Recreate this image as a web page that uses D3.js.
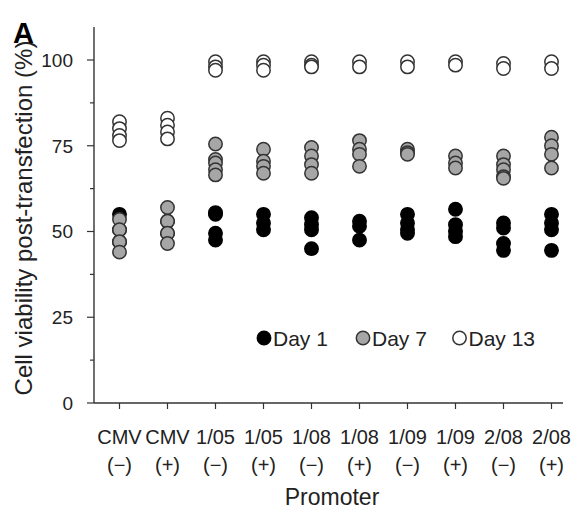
<!DOCTYPE html>
<html><head><meta charset="utf-8">
<script src="https://cdn.jsdelivr.net/npm/d3@7"></script>
<style>body{margin:0;background:#fff}svg{display:block}text{font-family:"Liberation Sans",Arial,sans-serif;fill:#222}</style>
</head><body>
<svg id="c" width="577" height="513"></svg>
<script>
const categories = ["CMV (−)","CMV (+)","1/05 (−)","1/05 (+)","1/08 (−)","1/08 (+)","1/09 (−)","1/09 (+)","2/08 (−)","2/08 (+)"];
const day1 = [[55,50.5,47],[53,49.5],[55.5,55,49.5,47.5],[55,52.5,50.5],[54,52,50.5,45],[53,51.5,47.5],[55,52.5,50.5,49.5],[56.5,52,50,48.5],[52.5,51,46.5,44.5],[55,52.5,50.5,44.5]];
const day7 = [[53.5,50.5,47,44],[57,53,49.5,46.5],[75.5,71,70,68,66.5],[74,70.5,69,67],[74.5,72,69.5,67],[76.5,74,72.5,69],[74,73,72.5],[72,70,68.5],[72,69.5,68,66,65.5],[77.5,75,72.5,68.5]];
const day13 = [[82,80,78,76.5],[83,81,79,77],[99.5,98,97],[99.5,98.5,97],[99.5,98.5,98],[99.5,98],[99.5,98],[99.5,98.5],[99,97.5],[99.5,97.5]];
const yTicks = [0,25,50,75,100];
const seriesNames = ["Day 1","Day 7","Day 13"];
const seriesFill = ["#000","#a6a6a6","#fff"];

const svg = d3.select("#c");
const y = d3.scaleLinear().domain([0,100]).range([403,60]);
const x = d3.scalePoint().domain(categories).range([119.5,551.5]);
const ax = 94, ay = 403;

// y axis
svg.append("line").attr("x1",ax).attr("x2",ax).attr("y1",27).attr("y2",ay).attr("stroke","#333").attr("stroke-width",1.4);
const minor = d3.range(12.5,100,25);
svg.selectAll(".mn").data(minor).enter().append("line").attr("x1",ax-4).attr("x2",ax).attr("y1",d=>y(d)).attr("y2",d=>y(d)).attr("stroke","#333").attr("stroke-width",1.2);
svg.selectAll(".mj").data(yTicks).enter().append("line").attr("x1",ax-7).attr("x2",ax).attr("y1",d=>y(d)).attr("y2",d=>y(d)).attr("stroke","#333").attr("stroke-width",1.2);
svg.selectAll(".yl").data(yTicks).enter().append("text").attr("x",73).attr("y",d=>y(d)).attr("dy","0.36em").attr("text-anchor","end").attr("font-size",19).text(d=>d);
svg.append("text").attr("transform","translate(32,218) rotate(-90)").attr("text-anchor","middle").attr("font-size",24).text("Cell viability post-transfection (%)");
svg.append("text").attr("x",13).attr("y",43).attr("font-size",29).attr("font-weight","bold").style("fill","#000").text("A");

// x axis
svg.append("line").attr("x1",ax).attr("x2",563).attr("y1",ay).attr("y2",ay).attr("stroke","#333").attr("stroke-width",1.4);
svg.selectAll(".xt").data(categories).enter().append("line").attr("x1",d=>x(d)).attr("x2",d=>x(d)).attr("y1",ay).attr("y2",ay+6).attr("stroke","#333").attr("stroke-width",1.2);
const xl = svg.selectAll(".xl").data(categories).enter().append("text").attr("text-anchor","middle").attr("font-size",20);
xl.append("tspan").attr("x",d=>x(d)).attr("y",444).text(d=>d.split(" ")[0]);
xl.append("tspan").attr("x",d=>x(d)).attr("y",472).text(d=>d.split(" ")[1]);
svg.append("text").attr("x",332).attr("y",505).attr("text-anchor","middle").attr("font-size",23).text("Promoter");

// points
const all = [day1,day7,day13];
all.forEach((s,si)=>{
  const pts = [];
  s.forEach((vals,ci)=>vals.forEach(v=>pts.push({c:categories[ci],v})));
  svg.append("g").selectAll("circle").data(pts).enter().append("circle")
    .attr("cx",d=>x(d.c)).attr("cy",d=>y(d.v)).attr("r",6.7)
    .attr("fill",seriesFill[si]).attr("stroke",si===0?"#000":"#333").attr("stroke-width",1.5);
});

// legend
const lx = [264,363,459.5];
seriesNames.forEach((n,i)=>{
  svg.append("circle").attr("cx",lx[i]).attr("cy",338).attr("r",6.7).attr("fill",seriesFill[i]).attr("stroke",i===0?"#000":"#333").attr("stroke-width",1.5);
  svg.append("text").attr("x",lx[i]+9).attr("y",338).attr("dy","0.36em").attr("font-size",21).text(n);
});
</script>
</body></html>
